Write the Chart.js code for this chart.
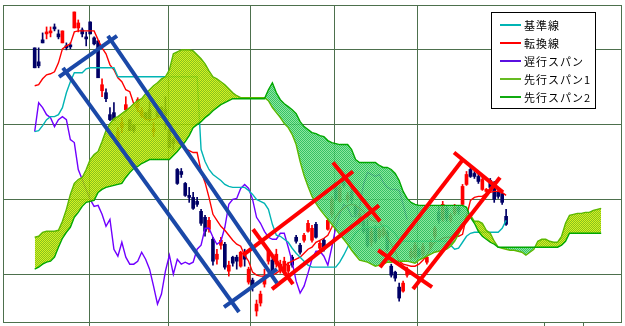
<!DOCTYPE html>
<html lang="ja">
<head>
<meta charset="utf-8">
<title>一目均衡表</title>
<script src="https://cdn.jsdelivr.net/npm/chart.js@4.4.1/dist/chart.umd.min.js"></script>
<style>
  html, body { margin: 0; padding: 0; background: #fff; }
  canvas { display: block; }
</style>
</head>
<body>
<canvas id="chart" width="625" height="326"></canvas>
<script>
// ==========================================
// データ (日足・一目均衡表)
// ==========================================
const firstIndex = 8;     // 最初のローソク足の位置
const lastIndex = 156;    // 横軸の右端

const opens = [
  2108,2052,2140,2164,2168,2192,2164,2128,2116,2120,
  2188,2188,2180,2152,2212,2148,2136,1936,1928,1840,
  1848,1732,1788,1860,1820,1796,1868,1836,1848,1860,
  1772,1872,1868,1860,1780,1740,
  1620,1612,1564,1516,1508,1492,1452,1428,1380,1340,
  1260,1316,1320,1212,1268,1268,1232,1276,1168,1176,
  1052,1084,1160,1252,1256,1240,1216,1208,1212,1268,
  1348,1316,1336,1372,1336,1400,1304,1336,1380,1440,1560,
  1492,1572,1500,1532,1472,1404,1412,1388,1328,1388,
  1348,1356,1368,1232,1208,1148,1132,1196,1268,1268,
  1296,1280,1248,1308,1352,1448,1420,1464,1416,1444,
  1468,1480,1560,1620,1604,1592,1540,1532,1576,1564,
  1532,1524,1432
];
const highs = [
  2108,2108,2168,2192,2192,2204,2180,2176,2128,2128,
  2252,2220,2188,2172,2212,2152,2136,1984,1944,1868,
  1888,1788,1828,1912,1820,1800,1908,1868,1848,1892,
  1808,1872,1872,1912,1780,1748,
  1624,1624,1568,1548,1528,1508,1460,1436,1428,1348,
  1300,1348,1328,1252,1272,1276,1292,1300,1228,1184,
  1096,1132,1220,1300,1268,1300,1256,1268,1248,1276,
  1356,1324,1364,1416,1396,1408,1332,1344,1424,1512,1568,
  1556,1580,1528,1552,1480,1456,1420,1420,1384,1396,
  1388,1396,1376,1240,1212,1164,1172,1228,1304,1328,
  1304,1324,1280,1340,1392,1476,1492,1472,1444,1480,
  1476,1560,1612,1628,1612,1604,1596,1544,1584,1572,
  1540,1532,1460
];
const lows = [
  2028,2028,2128,2144,2152,2176,2144,2128,2100,2104,
  2188,2172,2152,2116,2164,2120,1988,1912,1892,1816,
  1816,1728,1768,1852,1776,1768,1852,1828,1824,1812,
  1752,1832,1828,1780,1708,1700,
  1560,1588,1512,1488,1460,1472,1396,1352,1368,1236,
  1240,1300,1220,1192,1232,1220,1228,1232,1160,1132,
  1032,1072,1148,1240,1196,1228,1204,1196,1200,1228,
  1324,1280,1328,1368,1328,1344,1296,1292,1376,1428,1496,
  1488,1548,1488,1480,1428,1396,1364,1308,1312,1324,
  1340,1348,1292,1188,1172,1092,1128,1188,1260,1260,
  1268,1272,1240,1300,1340,1404,1412,1412,1408,1436,
  1440,1476,1556,1588,1584,1564,1536,1528,1540,1488,
  1504,1480,1396
];
const closes = [
  2028,2036,2128,2172,2176,2184,2152,2176,2108,2112,
  2252,2208,2164,2144,2164,2124,1988,1960,1904,1820,
  1816,1772,1808,1880,1776,1776,1900,1856,1824,1820,
  1784,1832,1840,1836,1708,1724,
  1564,1600,1516,1508,1464,1480,1404,1372,1416,1252,
  1280,1336,1228,1236,1244,1252,1288,1260,1220,1148,
  1080,1120,1192,1292,1208,1280,1240,1252,1236,1236,
  1332,1288,1356,1404,1384,1348,1324,1300,1416,1500,1504,
  1548,1556,1516,1496,1440,1444,1372,1316,1372,1332,
  1376,1380,1300,1196,1184,1104,1164,1220,1292,1316,
  1276,1312,1268,1332,1384,1416,1480,1424,1436,1468,
  1452,1552,1600,1592,1592,1572,1580,1540,1548,1500,
  1512,1488,1400
];

// 転換線
const tenkan = [
  1956,1960,1984,2000,2004,2012,2048,2104,2116,2124,
  2172,2176,2176,2176,2176,2176,2140,2108,2084,2040,
  2020,1988,1972,1940,1932,1884,1860,1840,1820,1820,
  1820,1828,1832,1824,1804,1768,1728,1716,1704,1696,
  1688,1688,1612,1568,1508,1440,1416,1392,1376,1356,
  1336,1320,1312,1276,1252,1208,1196,1192,1192,1192,
  1196,1204,1216,1232,1244,1252,1260,1268,1284,1300,
  1308,1328,1336,1344,1356,1388,1428,1452,1464,1476,
  1480,1476,1464,1452,1432,1416,1412,1408,1388,1352,
  1320,1292,1252,1240,1236,1232,1232,1240,1256,1276,
  1308,1328,1336,1344,1348,1348,1352,1352,1360,1432,
  1496,1508,1512,1512,1524,1528,1532,1532,1528,1516
];
// 基準線
const kijun = [
  1772,1776,1796,1820,1832,1832,1840,1868,1928,1972,
  2008,2008,2008,2024,2028,2028,2028,2028,2028,2028,
  2028,1992,1992,1992,1992,1992,1992,1992,1992,1992,
  1992,1992,1992,1992,1992,1992,1992,1992,1992,1992,
  1992,1992,1700,1652,1620,1600,1588,1576,1560,1552,
  1548,1548,1548,1548,1536,1520,1500,1492,1484,1460,
  1400,1356,1352,1340,1328,1304,1284,1268,1252,1236,
  1228,1228,1228,1228,1228,1228,1228,1248,1276,1308,
  1340,1364,1380,1388,1388,1388,1388,1388,1396,1392,
  1376,1364,1336,1332,1332,1332,1332,1332,1332,1332,
  1332,1332,1332,1332,1332,1316,1300,1304,1328,1352,
  1364,1368,1368,1368,1368,1368,1368,1368,1384,1416
];
// 遅行スパン
const chikou = [
  1772,1888,1868,1840,1828,1792,1820,1832,1820,1740,
  1728,1620,1580,1540,1500,1472,1476,1440,1392,1420,
  1300,1272,1328,1268,1240,1240,1252,1288,1260,1220,
  1152,1080,1120,1212,1276,1200,1260,1240,1248,1240,
  1248,1300,1316,1384,1384,1348,1320,1332,1388,1480,
  1500,1504,1544,1560,1544,1500,1428,1404,1372,1348,
  1340,1340,1364,1364,1308,1248,1172,1124,1152,1204,
  1260,1292,1292,1272,1236,1308,1388,1440,1480,1468,
  1432,1432,1468,1560,1608,1600,1592,1600,1568,1548,
  1540,1540,1536,1480,1420
];
// 先行スパン1
const senkou1 = [
  1348,1352,1368,1372,1372,1372,1376,1412,1460,1520,
  1564,1580,1588,1620,1660,1680,1692,1732,1776,1804,
  1824,1832,1844,1856,1868,1884,1896,1904,1924,1940,
  1956,1968,1984,1992,2020,2084,2092,2100,2100,2100,
  2096,2080,2064,2044,2016,1992,1984,1972,1960,1944,
  1928,1916,1908,1908,1908,1908,1908,1908,1908,1896,
  1868,1848,1828,1804,1788,1760,1720,1652,1596,1552,
  1512,1484,1460,1440,1420,1400,1380,1360,1340,1320,
  1296,1276,1256,1252,1248,1240,1232,1236,1240,1248,
  1248,1252,1252,1252,1252,1248,1244,1256,1264,1272,
  1280,1288,1292,1296,1300,1312,1332,1360,1392,1432,
  1436,1412,1412,1404,1376,1364,1332,1308,1304,1300,
  1296,1296,1292,1288,1276,1288,1300,1332,1340,1340,
  1332,1328,1328,1352,1404,1436,1440,1444,1444,1448,
  1448,1456,1460,1464
];
// 先行スパン2
const senkou2 = [
  1220,1228,1240,1248,1252,1268,1308,1344,1368,1388,
  1428,1448,1472,1488,1492,1496,1528,1540,1548,1552,
  1556,1560,1564,1588,1608,1624,1632,1644,1652,1660,
  1660,1660,1660,1660,1660,1676,1692,1712,1732,1756,
  1788,1800,1812,1828,1840,1856,1868,1880,1888,1896,
  1904,1904,1904,1904,1904,1904,1904,1904,1904,1940,
  1968,1928,1900,1884,1872,1860,1844,1812,1792,1780,
  1768,1764,1756,1752,1736,1728,1724,1720,1720,1720,
  1700,1660,1648,1648,1648,1648,1648,1636,1628,1628,
  1620,1604,1576,1532,1504,1488,1480,1476,1476,1476,
  1476,1476,1476,1476,1476,1476,1476,1476,1476,1468,
  1428,1404,1372,1352,1340,1328,1320,1308,1308,1308,
  1308,1308,1308,1308,1308,1308,1308,1308,1308,1308,
  1308,1308,1308,1316,1332,1364,1364,1364,1364,1364,
  1364,1364,1364,1364
];

// 手書きのトレンドライン [x1, y1, x2, y2] (横軸位置, 価格)
const blueLines = [
  [14.14, 1992, 28.78, 2156],
  [15.15, 2028, 59.57, 1048],
  [26.5, 2156, 69.17, 1164],
  [55.79, 1068, 69.17, 1220]
];
const redLines = [
  [60.58, 1276, 88.35, 1612],
  [67.9, 1140, 94.91, 1476],
  [63.11, 1380, 73.2, 1160],
  [83.3, 1648, 95.16, 1412],
  [95.16, 1228, 116.1, 1660],
  [103.5, 1140, 125.45, 1588],
  [113.85, 1688, 126.2, 1528],
  [94.7, 1296, 108.3, 1148]
];

// 目盛り
const yTicks = [1200, 1500, 1800, 2100];
const xTicks = [21.8, 41.7, 62.6, 83.6, 104.6, 136.6, 146.5];
const xGridCount = 5;   // 縦の補助線を引く目盛りの数

const legendItems = [
  ['基準線', '#00b4b4'],
  ['転換線', '#ff0000'],
  ['遅行スパン', '#5a10e0'],
  ['先行スパン1', '#66bb22'],
  ['先行スパン2', '#10aa10']
];

// ==========================================
// 色と模様
// ==========================================
const GRID = '#4d704d';
const UP = '#ff0000';
const DOWN = '#000066';
const canvas = document.getElementById('chart');
const ctx = canvas.getContext('2d');

function checker(c1, c2) {
  const p = document.createElement('canvas');
  p.width = 2; p.height = 2;
  const g = p.getContext('2d');
  g.fillStyle = c1; g.fillRect(0, 0, 1, 1); g.fillRect(1, 1, 1, 1);
  g.fillStyle = c2; g.fillRect(1, 0, 1, 1); g.fillRect(0, 1, 1, 1);
  return ctx.createPattern(p, 'repeat');
}
const yellowCloud = checker('rgba(210,240,0,0.88)', 'rgba(115,185,0,0.88)');
const greenCloud = checker('rgba(25,185,80,0.88)', 'rgba(125,228,145,0.88)');

const pts = (arr, start) => arr.map((v, k) => ({ x: start + k, y: v }));
const candleColors = closes.map((c, k) => c >= opens[k] ? UP : DOWN);

function lineSet(label, data, color, order) {
  return {
    type: 'line', label, data, borderColor: color, borderWidth: 1.4,
    pointRadius: 0, tension: 0, fill: false, order
  };
}

function trendSets(list, color) {
  return list.map(([x1, y1, x2, y2]) => ({
    type: 'line', data: [{ x: x1, y: y1 }, { x: x2, y: y2 }],
    borderColor: color, borderWidth: 4, borderCapStyle: 'butt',
    pointRadius: 0, fill: false, order: 0
  }));
}

const datasets = [
  {
    type: 'bar', label: 'wick',
    data: lows.map((l, k) => ({ x: firstIndex + k, y: [l, highs[k]] })),
    backgroundColor: candleColors, barThickness: 1, grouped: false, order: 6
  },
  {
    type: 'bar', label: 'body',
    data: opens.map((o, k) => ({ x: firstIndex + k, y: [o, closes[k]] })),
    backgroundColor: candleColors, barThickness: 3, minBarLength: 1, grouped: false, order: 5
  },
  lineSet('遅行スパン', pts(chikou, firstIndex), '#7000ff', 4),
  lineSet('基準線', pts(kijun, firstIndex), '#00b4b4', 3),
  lineSet('転換線', pts(tenkan, firstIndex), '#ff0000', 3),
  {
    type: 'line', label: '先行スパン1', data: pts(senkou1, firstIndex),
    borderColor: '#5cb800', borderWidth: 1.4, pointRadius: 0, tension: 0,
    fill: { target: 6, above: yellowCloud, below: greenCloud }, order: 2
  },
  lineSet('先行スパン2', pts(senkou2, firstIndex), '#00a800', 1),
  ...trendSets(blueLines, '#1a48a8'),
  ...trendSets(redLines, '#ff0000')
];

// ==========================================
// プラグイン: 枠線と凡例
// ==========================================
const plotFrame = {
  id: 'plotFrame',
  beforeDatasetsDraw(chart) {
    const a = chart.chartArea;
    const c = chart.ctx;
    c.save();
    c.strokeStyle = GRID;
    c.lineWidth = 1;
    c.strokeRect(a.left + 0.5, a.top + 0.5, a.right - a.left, a.bottom - a.top);
    c.restore();
  }
};

const legendBox = {
  id: 'legendBox',
  afterDraw(chart) {
    const c = chart.ctx;
    c.save();
    c.fillStyle = '#fff';
    c.fillRect(491, 12, 105, 97);
    c.strokeStyle = '#000';
    c.lineWidth = 1;
    c.strokeRect(491.5, 12.5, 104, 96);
    c.font = '11px "Noto Sans CJK JP"';
    c.textBaseline = 'middle';
    c.letterSpacing = '1px';
    legendItems.forEach(([label, color], n) => {
      const y = 25 + n * 18;
      c.strokeStyle = color;
      c.lineWidth = 2;
      c.beginPath();
      c.moveTo(500, y);
      c.lineTo(521, y);
      c.stroke();
      c.fillStyle = '#000';
      c.fillText(label, 524, y + 1);
    });
    c.restore();
  }
};

new Chart(ctx, {
  type: 'line',
  data: { datasets },
  options: {
    responsive: false,
    animation: false,
    devicePixelRatio: 1,
    events: [],
    layout: { padding: { left: 3, top: 5, right: 4, bottom: 0 } },
    plugins: { legend: { display: false }, tooltip: { enabled: false } },
    scales: {
      x: {
        type: 'linear', min: 0, max: lastIndex, offset: false,
        border: { display: false },
        ticks: { display: false },
        grid: {
          offset: false,
          color: c => c.index < xGridCount ? GRID : 'rgba(0,0,0,0)',
          tickColor: GRID, tickLength: 4, drawTicks: true
        },
        afterBuildTicks: s => { s.ticks = xTicks.map(v => ({ value: v })); }
      },
      y: {
        type: 'linear', min: 1008, max: 2280,
        border: { display: false },
        ticks: { display: false },
        grid: { color: GRID, drawTicks: false },
        afterBuildTicks: s => { s.ticks = yTicks.map(v => ({ value: v })); }
      }
    }
  },
  plugins: [plotFrame, legendBox]
});
</script>
</body>
</html>
